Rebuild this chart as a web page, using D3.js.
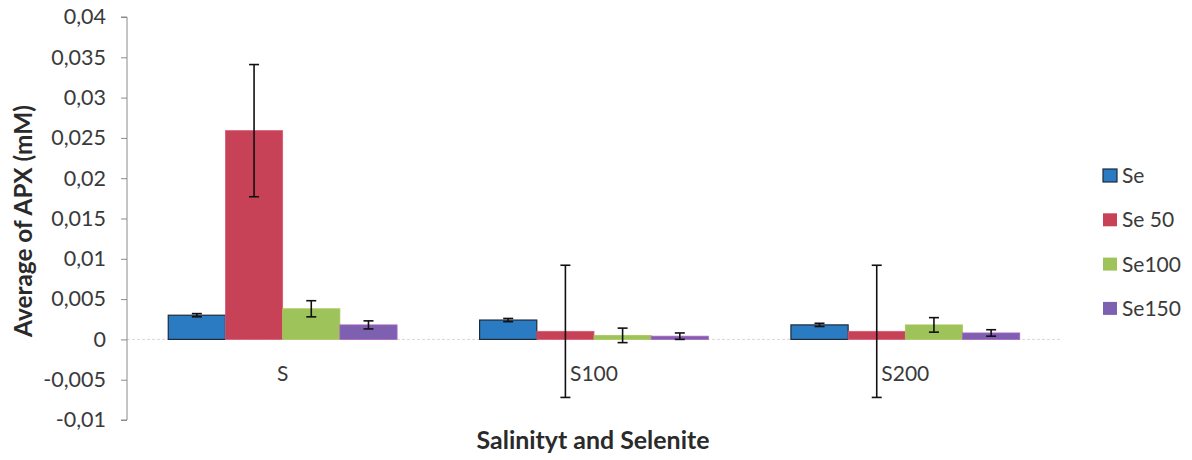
<!DOCTYPE html>
<html><head><meta charset="utf-8">
<script src="https://cdn.jsdelivr.net/npm/d3@7"></script>
<style>body{margin:0;background:#fff}svg{display:block}</style>
</head><body>
<svg id="c" width="1192" height="460"></svg>
<script>
const categories = ["S", "S100", "S200"];
const seriesNames = ["Se", "Se 50", "Se100", "Se150"];
const seValues    = [0.0030, 0.0024, 0.0018];
const se50Values  = [0.0259, 0.0010, 0.0010];
const se100Values = [0.0038, 0.0005, 0.0018];
const se150Values = [0.0018, 0.0004, 0.0008];
const seErr    = [0.0002, 0.0002, 0.0002];
const se50Err  = [0.0082, 0.0082, 0.0082];
const se100Err = [0.0010, 0.0009, 0.0009];
const se150Err = [0.0005, 0.0004, 0.0004];
const yTicks = [-0.01, -0.005, 0, 0.005, 0.01, 0.015, 0.02, 0.025, 0.03, 0.035, 0.04];

const values = [seValues, se50Values, se100Values, se150Values];
const errs = [seErr, se50Err, se100Err, se150Err];
const fills = ["#2b7bc3", "#c84257", "#9dc35a", "#7d60b0"];
const strokes = ["#1d2b3b", "#d55a78", "#a9c85c", "#b060c0"];

const svg = d3.select("#c");
const font = "Lato, 'Open Sans', sans-serif";
const L = 127, R = 1061, T = 17, B = 420;

function fit(sel, target) {
  sel.style("font-size", "20px");
  const w = sel.node().getComputedTextLength();
  sel.style("font-size", (20 * target / w).toFixed(2) + "px");
}

const y = d3.scaleLinear().domain([-0.01, 0.04]).range([B, T]);
const x0 = d3.scaleBand().domain(categories).range([L, R]).paddingInner(0.265).paddingOuter(0.1325);
const x1 = d3.scaleBand().domain(seriesNames).range([0, x0.bandwidth()]);

// zero line
svg.append("line").attr("x1", L).attr("x2", R).attr("y1", y(0)).attr("y2", y(0))
  .attr("stroke", "#d8d8d8").attr("stroke-width", 1).attr("stroke-dasharray", "3,2");

// bars
seriesNames.forEach((s, si) => {
  const g = svg.append("g");
  categories.forEach((c, ci) => {
    const v = values[si][ci];
    g.append("rect")
      .attr("x", x0(c) + x1(s))
      .attr("y", y(Math.max(0, v)))
      .attr("width", x1.bandwidth())
      .attr("height", Math.abs(y(v) - y(0)))
      .attr("fill", fills[si])
      .attr("stroke", strokes[si]).attr("stroke-width", si === 0 ? 1.2 : 0.8);
  });
});

// error bars
seriesNames.forEach((s, si) => {
  categories.forEach((c, ci) => {
    const v = values[si][ci], e = errs[si][ci];
    const cx = x0(c) + x1(s) + x1.bandwidth() / 2;
    const g = svg.append("g").attr("stroke", "#111").attr("stroke-width", 1.6);
    g.append("line").attr("x1", cx).attr("x2", cx).attr("y1", y(v + e)).attr("y2", y(v - e));
    g.append("line").attr("x1", cx - 5).attr("x2", cx + 5).attr("y1", y(v + e)).attr("y2", y(v + e));
    g.append("line").attr("x1", cx - 5).attr("x2", cx + 5).attr("y1", y(v - e)).attr("y2", y(v - e));
  });
});

// y axis
const fmt = d => d === 0 ? "0" : String(+d.toFixed(3)).replace(".", ",");
const yAxis = d3.axisLeft(y).tickValues(yTicks).tickSize(6).tickPadding(15).tickFormat(fmt);
const ga = svg.append("g").attr("transform", `translate(${L},0)`).call(yAxis);
ga.select(".domain").attr("stroke", "#8a8a8a").attr("d", `M-6,${T}H0V${B}H-6`);
ga.selectAll(".tick line").attr("stroke", "#8a8a8a");
ga.selectAll(".tick text").attr("fill", "#3a3a3a").style("font-family", font).style("font-size", "21.5px");

// category labels
const xAxis = d3.axisBottom(x0).tickSize(0).tickPadding(0);
const gx = svg.append("g").attr("transform", `translate(0,${y(0)})`).call(xAxis);
gx.select(".domain").remove();
gx.selectAll(".tick text").attr("y", 42).attr("dy", 0).attr("fill", "#3a3a3a")
  .style("font-family", font).style("font-size", "21px");

// axis titles
const yt = svg.append("text").attr("transform", `translate(32,${221}) rotate(-90)`)
  .attr("text-anchor", "middle").attr("fill", "#2a2a2a")
  .style("font-family", font).style("font-weight", "bold")
  .text("Average of APX (mM)");
fit(yt, 232);
const xt = svg.append("text").attr("x", 593).attr("y", 449)
  .attr("text-anchor", "middle").attr("fill", "#2a2a2a")
  .style("font-family", font).style("font-weight", "bold")
  .text("Salinityt and Selenite");
fit(xt, 233);

// legend
const lg = svg.append("g");
seriesNames.forEach((s, i) => {
  const yy = 176 + i * 44.3;
  lg.append("rect").attr("x", 1103).attr("y", yy - 7).attr("width", 14).attr("height", 13)
    .attr("fill", fills[i]).attr("stroke", i === 0 ? "#1d2b3b" : "none").attr("stroke-width", 1.2);
  lg.append("text").attr("x", 1122).attr("y", yy + 7).attr("fill", "#3a3a3a")
    .style("font-family", font).style("font-size", "21px").text(s);
});
</script>
</body></html>
